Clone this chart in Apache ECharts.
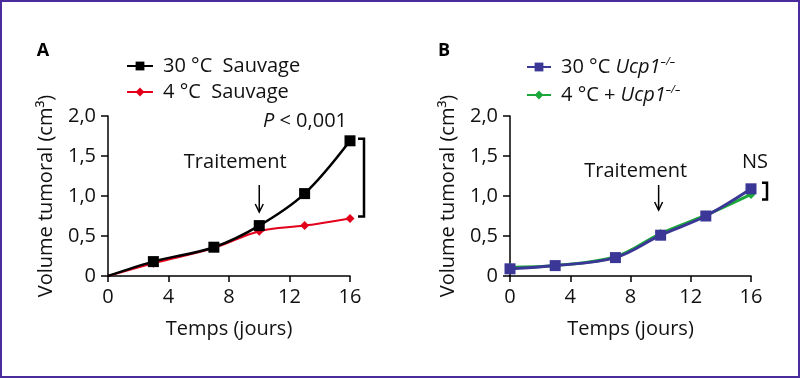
<!DOCTYPE html>
<html><head><meta charset="utf-8">
<script src="https://cdn.jsdelivr.net/npm/echarts@6/dist/echarts.min.js"></script>
<style>html,body{margin:0;padding:0;background:#fff}#c{width:800px;height:378px}</style>
</head><body><div id="c"></div>
<script>
// ---- data ----
const days = [0, 3, 7, 10, 13, 16];
const xTicks = [0, 4, 8, 12, 16];
const yTickLabels = {0: '0', 0.5: '0,5', 1: '1,0', 1.5: '1,5', 2: '2,0'};
const seriesNamesA = ['30 °C  Sauvage', '4 °C  Sauvage'];
const sauvage30 = [0.00, 0.18, 0.36, 0.63, 1.03, 1.69];
const sauvage4  = [0.00, 0.16, 0.35, 0.56, 0.63, 0.72];
const seriesNamesB = ['30 °C Ucp1-/-', '4 °C + Ucp1-/-'];
const legendRichB = ['30 °C {i|Ucp1}{s|–/–}', '4 °C + {i|Ucp1}{s|–/–}'];
const ucp30 = [0.09, 0.13, 0.23, 0.51, 0.75, 1.09];
const ucp4  = [0.11, 0.13, 0.24, 0.53, 0.76, 1.02];

const FONT = 'Open Sans';
const TXT = '#111111';
const C_BLACK = '#000000', C_RED = '#e2001a', C_BLUE = '#3b3796', C_GREEN = '#1aa83a';

function mkSeries(name, vals, color, symbol, size, lw, gi, hideFirst, z) {
  return {
    type: 'line', name: name, xAxisIndex: gi, yAxisIndex: gi,
    data: days.map((d, i) => [d, vals[i]]),
    smooth: 0.35, symbol: symbol, showAllSymbol: true,
    symbolSize: (v) => (hideFirst && v[0] === 0) ? 0 : size,
    lineStyle: {color: color, width: lw}, itemStyle: {color: color},
    z: z, clip: false, animation: false
  };
}
function xAxis(gi) {
  return {
    type: 'value', gridIndex: gi, min: 0, max: 16, interval: 4,
    name: 'Temps (jours)', nameLocation: 'middle', nameGap: 43,
    nameTextStyle: {fontFamily: FONT, fontSize: 20, color: TXT},
    axisLine: {show: true, lineStyle: {color: '#000', width: 1.5}},
    axisTick: {show: true, length: 6, lineStyle: {color: '#000', width: 1.5}},
    axisLabel: {fontFamily: FONT, fontSize: 20, color: TXT, margin: 11},
    splitLine: {show: false}
  };
}
function yAxis(gi) {
  return {
    type: 'value', gridIndex: gi, min: 0, max: 2, interval: 0.5,
    name: 'Volume tumoral (cm³)', nameLocation: 'middle', nameGap: 52, nameRotate: 90,
    nameTextStyle: {fontFamily: FONT, fontSize: 20, color: TXT},
    axisLine: {show: true, lineStyle: {color: '#000', width: 1.5}},
    axisTick: {show: true, length: 7, lineStyle: {color: '#000', width: 1.5}},
    axisLabel: {fontFamily: FONT, fontSize: 20, color: TXT, margin: 12,
      formatter: (v) => yTickLabels[v]},
    splitLine: {show: false}
  };
}

const chart = echarts.init(document.getElementById('c'), null, {renderer: 'canvas'});
chart.setOption({
  backgroundColor: '#fff',
  animation: false,
  grid: [
    {left: 108, top: 116, width: 242, height: 160},
    {left: 510, top: 116, width: 241, height: 160}
  ],
  xAxis: [xAxis(0), xAxis(1)],
  yAxis: [yAxis(0), yAxis(1)],
  legend: [
    {data: seriesNamesA, orient: 'vertical', left: 121, top: 51, itemWidth: 26, itemHeight: 11, itemGap: 6,
     textStyle: {fontFamily: FONT, fontSize: 20, color: TXT, padding: [0, 0, 0, 5]}},
    {data: seriesNamesB, orient: 'vertical', left: 521, top: 51, itemWidth: 24, itemHeight: 11, itemGap: 6,
     formatter: (n) => legendRichB[seriesNamesB.indexOf(n)],
     textStyle: {fontFamily: FONT, fontSize: 20, color: TXT, padding: [0, 0, 0, 5], lineHeight: 22,
       rich: {i: {fontFamily: FONT, fontSize: 20, fontStyle: 'italic', color: TXT},
              s: {fontFamily: FONT, fontSize: 11, fontStyle: 'italic', color: TXT, verticalAlign: 'top', lineHeight: 22}}}}
  ],
  series: [
    mkSeries(seriesNamesA[1], sauvage4, C_RED, 'diamond', 9, 2, 0, true, 2),
    mkSeries(seriesNamesA[0], sauvage30, C_BLACK, 'rect', 11, 2.5, 0, true, 3),
    mkSeries(seriesNamesB[1], ucp4, C_GREEN, 'diamond', 9, 3, 1, false, 2),
    mkSeries(seriesNamesB[0], ucp30, C_BLUE, 'rect', 11, 3, 1, false, 3)
  ]
});

// ---- annotations anchored to data coordinates ----
const pA = (x, y) => chart.convertToPixel({gridIndex: 0}, [x, y]);
const pB = (x, y) => chart.convertToPixel({gridIndex: 1}, [x, y]);
function arrow(x, y1, y2) {
  return [
    {type: 'line', shape: {x1: x, y1: y1, x2: x, y2: y2}, style: {stroke: '#000', lineWidth: 1.5}},
    {type: 'polyline', shape: {points: [[x - 4, y2 - 8], [x, y2], [x + 4, y2 - 8]]}, style: {stroke: '#000', lineWidth: 1.5, fill: null}}
  ];
}
const aTop = pA(16, sauvage30[5]), aBot = pA(16, sauvage4[5]);
const bTop = pB(16, ucp30[5]), bBot = pB(16, ucp4[5]);
const arrA = pA(10, 0), arrB = pB(10, 0);
const txt = (x, y, t, extra) => Object.assign({type: 'text', x: x, y: y,
  style: {text: t, fontFamily: FONT, fontSize: 20, fill: TXT, align: 'center', verticalAlign: 'middle'}}, extra || {});
chart.setOption({
  graphic: [
    {type: 'rect', shape: {x: 1, y: 1, width: 798, height: 376}, style: {fill: null, stroke: '#4b2c9c', lineWidth: 2}},
    {type: 'text', x: 43, y: 51, style: {text: 'A', fontFamily: FONT, fontWeight: 'bold', fontSize: 18, fill: '#000', align: 'center', verticalAlign: 'middle'}},
    {type: 'text', x: 444, y: 51, style: {text: 'B', fontFamily: FONT, fontWeight: 'bold', fontSize: 18, fill: '#000', align: 'center', verticalAlign: 'middle'}},
    txt(arrA[0] - 24, 162, 'Traitement'),
    ...arrow(arrA[0], 185, 212),
    txt(arrB[0] - 25, 171, 'Traitement'),
    ...arrow(arrB[0] - 2, 185, 210),
    {type: 'text', x: 305, y: 121, style: {text: '{p|P} < 0,001', fontFamily: FONT, fontSize: 20, fill: TXT, align: 'center', verticalAlign: 'middle',
      rich: {p: {fontFamily: FONT, fontSize: 20, fontStyle: 'italic', fill: TXT}}}},
    txt(755, 162, 'NS'),
    {type: 'polyline', shape: {points: [[aTop[0] + 8, aTop[1] - 2], [aTop[0] + 14, aTop[1] - 2], [aTop[0] + 14, aBot[1] - 2], [aTop[0] + 8, aBot[1] - 2]]},
     style: {stroke: '#000', lineWidth: 2.5, fill: null}},
    {type: 'polyline', shape: {points: [[bTop[0] + 11, bTop[1] - 6], [bTop[0] + 16, bTop[1] - 6], [bTop[0] + 16, bBot[1] + 5], [bTop[0] + 11, bBot[1] + 5]]},
     style: {stroke: '#000', lineWidth: 2.5, fill: null}}
  ]
});
</script></body></html>
